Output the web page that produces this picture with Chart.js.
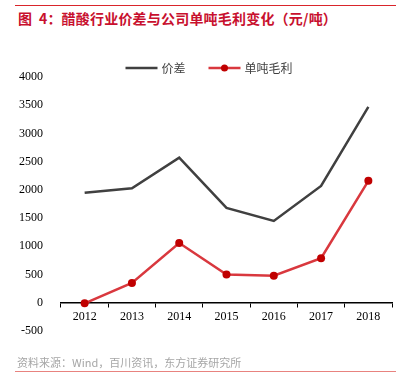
<!DOCTYPE html>
<html><head><meta charset="utf-8">
<script src="https://cdn.jsdelivr.net/npm/chart.js@4/dist/chart.umd.min.js"></script>
<style>
html,body{margin:0;padding:0;background:#fff;}
#wrap{position:relative;width:418px;height:381px;overflow:hidden;}
#topline{position:absolute;left:15px;top:5px;width:381px;height:1px;background:#d9252b;}
#title{position:absolute;left:18px;top:8px;font:bold 14px "Noto Sans CJK SC",sans-serif;color:#c8102e;white-space:pre;letter-spacing:0.2px;}
#cv{position:absolute;left:0;top:0;}
#source{position:absolute;left:17px;top:354px;font:11px "Noto Sans CJK SC",sans-serif;color:#a6a6a6;white-space:nowrap;}
#botline{position:absolute;left:15px;top:371px;width:381px;height:1px;background:#e8837f;}
</style></head>
<body><div id="wrap">
<div id="topline"></div>
<div id="title">图  4：醋酸行业价差与公司单吨毛利变化（元/吨）</div>
<canvas id="cv" width="418" height="381"></canvas>
<div id="source">资料来源：Wind，百川资讯，东方证券研究所</div>
<div id="botline"></div>
</div>
<script>
const categories = ['2012','2013','2014','2015','2016','2017','2018'];
const spreadValues = [1950, 2030, 2570, 1680, 1450, 2070, 3470];
const marginValues = [-10, 350, 1060, 500, 480, 790, 2160];
const seriesNames = ['价差', '单吨毛利'];
const yMin = -500, yMax = 4000, yStep = 500;

const legendPlugin = {
  id: 'customLegend',
  afterDraw(chart) {
    const ctx = chart.ctx;
    ctx.save();
    ctx.font = '12px "Noto Sans CJK SC", sans-serif';
    ctx.textBaseline = 'middle';
    const lineLen = 32, gap = 4, itemGap = 23;
    const items = chart.data.datasets.map(ds => ({ds, w: lineLen + gap + ctx.measureText(ds.label).width}));
    const total = items.reduce((a, b) => a + b.w, 0) + itemGap * (items.length - 1);
    let x = chart.width / 2 - total / 2;
    const y = 68;
    items.forEach(it => {
      ctx.strokeStyle = it.ds.borderColor;
      ctx.lineWidth = 2.5;
      ctx.beginPath(); ctx.moveTo(x, y); ctx.lineTo(x + lineLen, y); ctx.stroke();
      if (it.ds.pointRadius > 0) {
        ctx.fillStyle = it.ds.pointBackgroundColor;
        ctx.beginPath(); ctx.arc(x + lineLen / 2, y, 3.5, 0, Math.PI * 2); ctx.fill();
      }
      ctx.fillStyle = '#404040';
      ctx.textAlign = 'left';
      ctx.fillText(it.ds.label, x + lineLen + gap, y);
      x += it.w + itemGap;
    });
    ctx.restore();
  }
};

new Chart(document.getElementById('cv'), {
  type: 'line',
  data: {
    labels: categories,
    datasets: [
      { label: seriesNames[0], data: spreadValues, borderColor: '#404040', borderWidth: 2.5, pointRadius: 0, tension: 0, fill: false },
      { label: seriesNames[1], data: marginValues, borderColor: '#d9383e', borderWidth: 2.5, pointRadius: 4, pointBackgroundColor: '#c00000', pointBorderColor: '#c00000', pointBorderWidth: 0, tension: 0, fill: false }
    ]
  },
  options: {
    responsive: false,
    animation: false,
    devicePixelRatio: 1,
    layout: { padding: { left: 0, right: 26, top: 77, bottom: 50 } },
    plugins: { legend: { display: false }, tooltip: { enabled: false }, title: { display: false } },
    scales: {
      x: {
        type: 'category',
        position: { y: 0 },
        offset: true,
        grid: { display: true, drawOnChartArea: false, drawTicks: true, tickLength: 4, offset: true, color: '#000', lineWidth: 1 },
        border: { display: true, color: '#000', width: 1.5 },
        ticks: { color: '#000', font: { family: '"Liberation Serif", serif', size: 12 }, padding: 3, maxRotation: 0 }
      },
      y: {
        min: yMin, max: yMax,
        afterFit(scale) { scale.width = 61; },
        grid: { display: false },
        border: { display: false },
        ticks: { stepSize: yStep, color: '#000', font: { family: '"Liberation Serif", serif', size: 12 }, padding: 10,
          callback: v => String(v) }
      }
    }
  },
  plugins: [legendPlugin]
});
</script>
</body></html>
